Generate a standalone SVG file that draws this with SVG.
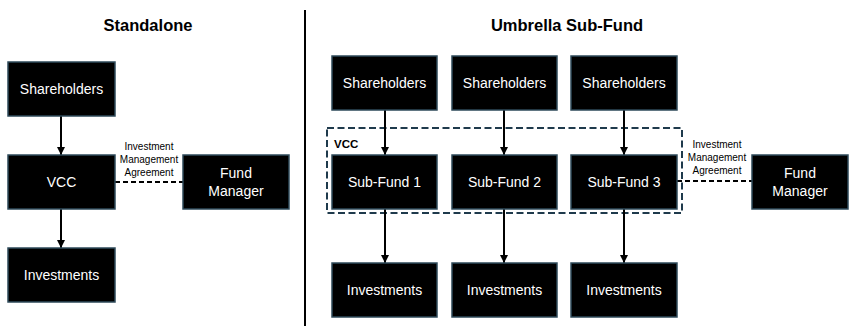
<svg xmlns="http://www.w3.org/2000/svg" width="852" height="329" viewBox="0 0 852 329">
  <style>
    .box { fill: #000; stroke: #2e4a5a; stroke-width: 1.5; }
    .lbl { fill: #fff; font-family: "Liberation Sans", Arial, sans-serif; font-size: 14px; text-anchor: middle; }
    .title { fill: #000; font-family: "Liberation Sans", Arial, sans-serif; font-size: 16.5px; font-weight: bold; text-anchor: middle; }
    .note { fill: #000; font-family: "Liberation Sans", Arial, sans-serif; font-size: 10px; text-anchor: middle; }
    .arrow { stroke: #000; stroke-width: 2; fill: none; marker-end: url(#head); }
    .dash { stroke: #000; stroke-width: 2; fill: none; stroke-dasharray: 5 3; }
    .group { fill: none; stroke: #1f3a4c; stroke-width: 2; stroke-dasharray: 7 3.5; }
  </style>
  <defs>
    <marker id="head" viewBox="0 0 8 8" refX="8" refY="4" markerWidth="4" markerHeight="4" markerUnits="strokeWidth" orient="auto">
      <path d="M0,0 L8,4 L0,8 Z" fill="#000"/>
    </marker>
  </defs>
  <rect width="852" height="329" fill="#fff"/>

  <!-- section titles and divider -->
  <text class="title" x="148" y="31">Standalone</text>
  <text class="title" x="567" y="31">Umbrella Sub-Fund</text>
  <line x1="305" y1="10" x2="305" y2="326" stroke="#000" stroke-width="2"/>

  <!-- VCC umbrella container -->
  <g id="vcc-umbrella">
    <rect class="group" x="327" y="128" width="355" height="85"/>
    <text x="334" y="148" font-family="Liberation Sans, Arial, sans-serif" font-size="11.5" font-weight="bold" fill="#000">VCC</text>
  </g>

  <!-- connectors -->
  <g id="connectors">
    <line class="arrow" x1="61" y1="116" x2="61" y2="155"/>
    <line class="arrow" x1="61" y1="209" x2="61" y2="248"/>
    <line class="dash" x1="115" y1="182" x2="183" y2="182"/>

    <line class="arrow" x1="385" y1="110" x2="385" y2="155"/>
    <line class="arrow" x1="504" y1="110" x2="504" y2="155"/>
    <line class="arrow" x1="624" y1="110" x2="624" y2="155"/>
    <line class="arrow" x1="385" y1="209" x2="385" y2="263"/>
    <line class="arrow" x1="504" y1="209" x2="504" y2="263"/>
    <line class="arrow" x1="624" y1="209" x2="624" y2="263"/>
    <line class="dash" x1="677" y1="181" x2="752" y2="181"/>

    <g id="ima-left">
      <text class="note" x="149" y="150">Investment</text>
      <text class="note" x="149" y="163">Management</text>
      <text class="note" x="149" y="176">Agreement</text>
    </g>
    <g id="ima-right">
      <text class="note" x="717" y="148">Investment</text>
      <text class="note" x="717" y="161">Management</text>
      <text class="note" x="717" y="174">Agreement</text>
    </g>
  </g>

  <!-- standalone nodes -->
  <g id="sa-shareholders">
    <rect class="box" x="8" y="62" width="107" height="54"/>
    <text class="lbl" x="61.5" y="94">Shareholders</text>
  </g>
  <g id="sa-vcc">
    <rect class="box" x="8" y="155" width="107" height="54"/>
    <text class="lbl" x="61.5" y="187">VCC</text>
  </g>
  <g id="sa-investments">
    <rect class="box" x="8" y="248" width="107" height="54"/>
    <text class="lbl" x="61.5" y="280">Investments</text>
  </g>
  <g id="sa-fund-manager">
    <rect class="box" x="183" y="155" width="106" height="54"/>
    <text class="lbl" x="236" y="178">Fund</text>
    <text class="lbl" x="236" y="196">Manager</text>
  </g>

  <!-- umbrella nodes -->
  <g id="um-shareholders-1">
    <rect class="box" x="332" y="56" width="105" height="54"/>
    <text class="lbl" x="384.5" y="88">Shareholders</text>
  </g>
  <g id="um-shareholders-2">
    <rect class="box" x="452" y="56" width="105" height="54"/>
    <text class="lbl" x="504.5" y="88">Shareholders</text>
  </g>
  <g id="um-shareholders-3">
    <rect class="box" x="571" y="56" width="106" height="54"/>
    <text class="lbl" x="624" y="88">Shareholders</text>
  </g>

  <g id="um-subfund-1">
    <rect class="box" x="332" y="155" width="105" height="54"/>
    <text class="lbl" x="384.5" y="187">Sub-Fund 1</text>
  </g>
  <g id="um-subfund-2">
    <rect class="box" x="452" y="155" width="105" height="54"/>
    <text class="lbl" x="504.5" y="187">Sub-Fund 2</text>
  </g>
  <g id="um-subfund-3">
    <rect class="box" x="571" y="155" width="106" height="54"/>
    <text class="lbl" x="624" y="187">Sub-Fund 3</text>
  </g>

  <g id="um-investments-1">
    <rect class="box" x="332" y="263" width="105" height="54"/>
    <text class="lbl" x="384.5" y="295">Investments</text>
  </g>
  <g id="um-investments-2">
    <rect class="box" x="452" y="263" width="105" height="54"/>
    <text class="lbl" x="504.5" y="295">Investments</text>
  </g>
  <g id="um-investments-3">
    <rect class="box" x="571" y="263" width="106" height="54"/>
    <text class="lbl" x="624" y="295">Investments</text>
  </g>

  <g id="um-fund-manager">
    <rect class="box" x="752" y="155" width="96" height="54"/>
    <text class="lbl" x="800" y="178">Fund</text>
    <text class="lbl" x="800" y="196">Manager</text>
  </g>
</svg>
